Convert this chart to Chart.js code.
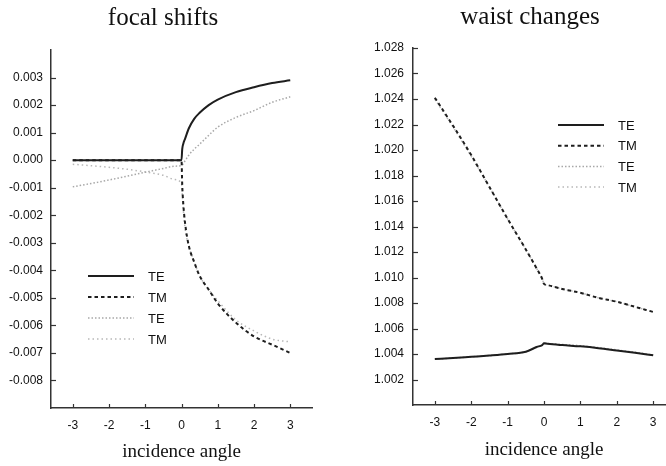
<!DOCTYPE html>
<html><head><meta charset="utf-8">
<script src="https://cdn.jsdelivr.net/npm/chart.js@4/dist/chart.umd.min.js"></script>
<style>
html,body{margin:0;padding:0;background:#fff;overflow:hidden;width:666px;height:466px;position:relative;}
#c1{position:absolute;left:0;top:0;width:333px;height:466px;}
#c2{position:absolute;left:333px;top:0;width:350px;height:466px;}
</style></head><body>
<canvas id="c1" width="333" height="466"></canvas>
<canvas id="c2" width="350" height="466"></canvas>
<script>
// ---- data ----
const xTicks = [-3, -2, -1, 0, 1, 2, 3];
const seriesNames = ['TE', 'TM', 'TE', 'TM'];

const focalAngles = [-3, -2.5, -2, -1.5, -1, -0.5, -0.2, 0, 0.02, 0.05, 0.1, 0.2, 0.35, 0.5, 0.75, 1, 1.5, 2, 2.5, 3];
const focalTE  = [0, 0, 0, 0, 0, 0, 0, 0, 0.0004, 0.0006, 0.00078, 0.00115, 0.0015, 0.00172, 0.002, 0.0022, 0.00247, 0.00265, 0.0028, 0.0029];
const focalTM  = [0, 0, 0, 0, 0, 0, 0, 0, -0.0009, -0.0016, -0.0023, -0.0031, -0.0037, -0.0042, -0.0047, -0.0052, -0.0059, -0.0064, -0.0067, -0.0070];
const focalTE2 = [-0.00097, -0.00085, -0.00072, -0.00058, -0.00044, -0.0003, -0.00022, -0.0002, -0.00018, -0.00012, -0.00002, 0.00018, 0.0004, 0.00058, 0.0009, 0.0012, 0.00155, 0.0018, 0.0021, 0.0023];
const focalTM2 = [-0.00015, -0.0002, -0.00026, -0.00033, -0.00043, -0.00055, -0.0007, -0.00085, -0.0012, -0.0018, -0.0025, -0.0031, -0.0037, -0.0042, -0.0047, -0.0051, -0.0058, -0.0062, -0.0065, -0.0066];
const focalTicks = [-0.008, -0.007, -0.006, -0.005, -0.004, -0.003, -0.002, -0.001, 0, 0.001, 0.002, 0.003];

const waistAngles = [-3, -2.5, -2, -1.5, -1, -0.5, -0.2, -0.05, 0, 0.1, 0.5, 1, 1.5, 2, 2.5, 3];
const waistTE  = [1.0036, 1.00368, 1.00378, 1.00388, 1.004, 1.00418, 1.00455, 1.0047, 1.00484, 1.0048, 1.0047, 1.0046, 1.00446, 1.00428, 1.0041, 1.0039];
const waistTM  = [1.0241, 1.0219, 1.0196, 1.0171, 1.0146, 1.0122, 1.0107, 1.0099, 1.0095, 1.0094, 1.0091, 1.0088, 1.0084, 1.0081, 1.0077, 1.0073];
const waistTE2 = [1.0036, 1.00368, 1.00378, 1.00388, 1.004, 1.00418, 1.00455, 1.0047, 1.00484, 1.00482, 1.00475, 1.00465, 1.0045, 1.00432, 1.00413, 1.00392];
const waistTM2 = [1.024, 1.0218, 1.0195, 1.0171, 1.0146, 1.0122, 1.0107, 1.0099, 1.0095, 1.0094, 1.0091, 1.0088, 1.0084, 1.0081, 1.0077, 1.0073];
const waistTicks = [1.002, 1.004, 1.006, 1.008, 1.01, 1.012, 1.014, 1.016, 1.018, 1.02, 1.022, 1.024, 1.026, 1.028];

// ---- styles ----
const styles = [
  {borderColor: '#1e1e1e', borderWidth: 2, borderDash: []},
  {borderColor: '#1e1e1e', borderWidth: 2, borderDash: [3.5, 3]},
  {borderColor: '#a8a8a8', borderWidth: 1.5, borderDash: [1.5, 2]},
  {borderColor: '#b8b8b8', borderWidth: 1.5, borderDash: [1.5, 3]}
];
const pts = (xs, ys) => xs.map((x, i) => ({x: x, y: ys[i]}));
function makeDatasets(xs, list) {
  return list.map((ys, i) => Object.assign({
    label: seriesNames[i], data: pts(xs, ys), pointRadius: 0, fill: false,
    cubicInterpolationMode: 'monotone'
  }, styles[i]));
}

const panelPlugin = {
  id: 'panel',
  afterDraw(chart, args, opts) {
    const ctx = chart.ctx;
    const ca = chart.chartArea;
    ctx.save();
    // inward tick marks
    ctx.strokeStyle = '#333'; ctx.lineWidth = 1.2;
    const xs = chart.scales.x, ys = chart.scales.y;
    xs.ticks.forEach(t => {
      const p = Math.round(xs.getPixelForValue(t.value)) + 0.5;
      ctx.beginPath(); ctx.moveTo(p, ca.bottom); ctx.lineTo(p, ca.bottom - 4); ctx.stroke();
    });
    ys.ticks.forEach(t => {
      const p = Math.round(ys.getPixelForValue(t.value)) + 0.5;
      ctx.beginPath(); ctx.moveTo(ca.left, p); ctx.lineTo(ca.left + 5, p); ctx.stroke();
    });
    // title
    ctx.fillStyle = '#111';
    ctx.font = '25px "Liberation Serif", "Times New Roman", serif';
    ctx.textAlign = 'center'; ctx.textBaseline = 'alphabetic';
    ctx.fillText(opts.title, opts.titleX, opts.titleY);
    // legend
    ctx.font = '13px "Liberation Sans", Arial, sans-serif';
    ctx.textAlign = 'left'; ctx.textBaseline = 'middle';
    chart.data.datasets.forEach((ds, i) => {
      const y = opts.legY + i * opts.legStep;
      ctx.strokeStyle = ds.borderColor; ctx.lineWidth = ds.borderWidth;
      ctx.setLineDash(ds.borderDash || []);
      ctx.beginPath(); ctx.moveTo(opts.legX, y); ctx.lineTo(opts.legX + 46, y); ctx.stroke();
      ctx.setLineDash([]);
      ctx.fillStyle = '#111';
      ctx.fillText(ds.label, opts.legX + 60, y + 1);
    });
    ctx.restore();
  }
};

function makeChart(id, datasets, yMin, yMax, yTicks, yWidth, xHeight, padRight, padTop, titlePadBottom, labelPad, panel) {
  return new Chart(document.getElementById(id), {
    type: 'line',
    data: {datasets: datasets},
    plugins: [panelPlugin],
    options: {
      responsive: false, animation: false, devicePixelRatio: 1,
      layout: {padding: {left: 0, right: padRight, top: padTop, bottom: 0}},
      plugins: {legend: {display: false}, tooltip: {enabled: false}, title: {display: false}, panel: panel},
      scales: {
        x: {
          type: 'linear', min: -3.6, max: 3.6,
          afterBuildTicks: s => { s.ticks = xTicks.map(v => ({value: v})); },
          afterFit: s => { s.height = xHeight; },
          grid: {display: true, drawOnChartArea: false, drawTicks: false},
          border: {display: true, color: '#333', width: 1.5},
          ticks: {color: '#111', padding: 10, font: {family: '"Liberation Sans", Arial, sans-serif', size: 12}, maxRotation: 0},
          title: {display: true, text: 'incidence angle', color: '#111',
                  font: {family: '"Liberation Serif", "Times New Roman", serif', size: 19},
                  padding: {top: 0, bottom: titlePadBottom}}
        },
        y: {
          type: 'linear', min: yMin, max: yMax,
          afterBuildTicks: s => { s.ticks = yTicks.map(v => ({value: v})); },
          afterFit: s => { s.width = yWidth; },
          grid: {display: true, drawOnChartArea: false, drawTicks: false},
          border: {display: true, color: '#333', width: 1.5},
          ticks: {color: '#111', padding: labelPad, font: {family: '"Liberation Sans", Arial, sans-serif', size: 12},
                  callback: v => Number(v).toFixed(3)}
        }
      }
    }
  });
}

makeChart('c1', makeDatasets(focalAngles, [focalTE, focalTM, focalTE2, focalTM2]),
  -0.009, 0.004, focalTicks, 51, 58, 21, 50, 3, 8,
  {title: 'focal shifts', titleX: 163, titleY: 25, legX: 88, legY: 276, legStep: 21});

makeChart('c2', makeDatasets(waistAngles, [waistTE, waistTM, waistTE2, waistTM2]),
  1.0, 1.028, waistTicks, 80, 61, 8, 48, 5, 9,
  {title: 'waist changes', titleX: 197, titleY: 24, legX: 225, legY: 125, legStep: 20.7});
</script>
</body></html>
